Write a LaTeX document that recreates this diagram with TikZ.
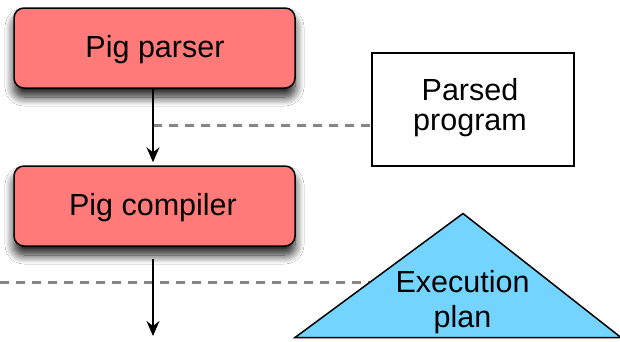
\documentclass[tikz,border=0pt]{standalone}
\usepackage{fontspec}
\setmainfont{Liberation Sans}
\usetikzlibrary{arrows.meta,shadows.blur}
\definecolor{pigred}{RGB}{255,122,120}
\definecolor{planblue}{RGB}{115,212,255}
\definecolor{dashgray}{RGB}{135,135,135}
\tikzset{
  redbox/.style={draw=black, line width=1.5pt, fill=pigred, rounded corners=10pt,
    minimum width=281pt, minimum height=80pt, inner sep=0pt,
    blur shadow={shadow xshift=0pt, shadow yshift=-9pt, shadow blur radius=9pt, shadow opacity=90, shadow blur steps=12}},
  whitebox/.style={draw=black, line width=1.5pt, fill=white, minimum width=202pt, minimum height=113pt, inner sep=0pt},
  lbl/.style={anchor=base, inner sep=0pt, font=\fontsize{30.5}{30}\selectfont},
  flow/.style={line width=1.5pt, -{Stealth[length=15pt, width=13pt, inset=5pt]}},
  guide/.style={draw=dashgray, line width=3pt, dash pattern=on 9pt off 7pt}
}
\begin{document}
\begin{tikzpicture}[x=1pt, y=-1pt]
\useasboundingbox[fill=white] (0,0) rectangle (620,341);
% boxes
\node[redbox] (parser) at (154.5,48) {};
\node[redbox] (compiler) at (154.5,206) {};
\node[whitebox] (parsed) at (473,109.5) {};
% dashed guides
\coordinate (d1) at (153,125);
\coordinate (d2) at (0,282);
\coordinate (apex) at (463,213.5);
\coordinate (bl) at (295,337.5);
\coordinate (br) at (621,337.5);
\draw[guide] (d1) -- (d1 -| parsed.west);
\draw[guide] (d2) -- (d2 -| apex);
% triangle
\draw[line width=1.5pt, fill=planblue, line join=miter] (bl) -- (apex) -- (br) -- cycle;
% labels
\node[lbl] (parsertxt) at (155,57) {Pig parser};
\node[lbl] (compilertxt) at (153,215) {Pig compiler};
\node[lbl] (parsedtxt1) at (470,100) {Parsed};
\node[lbl] (parsedtxt2) at (470,130) {program};
\node[lbl] (plantxt1) at (462.5,292) {Execution};
\node[lbl] (plantxt2) at (462.5,327) {plan};
% arrows
\coordinate (out) at (153,336);
\draw[flow, shorten >=3pt] (parser.south -| d1) -- (compiler.north -| d1);
\draw[flow, shorten <=12pt] (compiler.south -| out) -- (out);
\end{tikzpicture}
\end{document}
